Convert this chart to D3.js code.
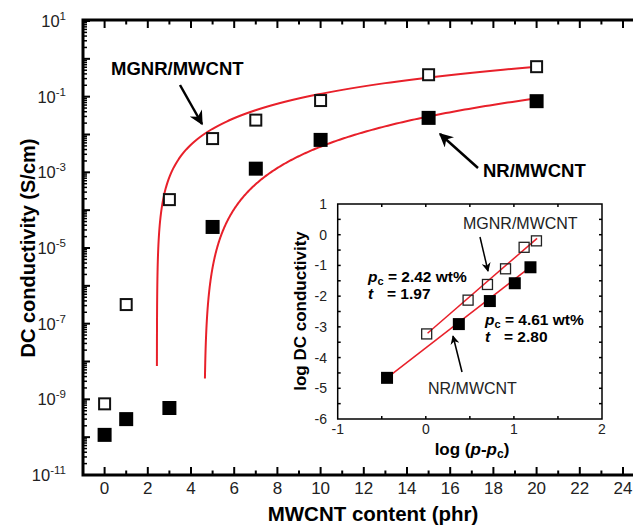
<!DOCTYPE html>
<html>
<head>
<meta charset="utf-8">
<script src="https://cdn.jsdelivr.net/npm/d3@7"></script>
<style>
  body { margin: 0; background: #fff; }
  svg { display: block; font-family: "Liberation Sans", Arial, sans-serif; }
</style>
</head>
<body>
<div id="chart"></div>
<script>
var width = 633, height = 527;

// main plot data (MWCNT content in phr, conductivity in S/cm)
var content = [0, 1, 3, 5, 7, 10, 15, 20];
var mgnrSigma = [7.6e-10, 3.2e-7, 1.9e-4, 7.8e-3, 2.4e-2, 7.9e-2, 3.8e-1, 6.2e-1];
var nrContent = [0, 1, 3, 5, 7, 10, 15, 20];
var nrSigma = [1.15e-10, 3.0e-10, 5.9e-10, 3.6e-5, 1.25e-3, 7.2e-3, 2.75e-2, 7.6e-2];

// percolation fit parameters: pc, t, log prefactor, curve start/end
var fitPc = [2.42, 4.61];
var fitT = [1.97, 2.80];
var fitLogS0 = [-2.66, -4.37];
var fitStart = [2.4217, 4.645];
var fitEnd = [20, 20];

// inset data: log(p - pc) vs log DC conductivity
var insMgnrX = [0.01, 0.48, 0.70, 0.905, 1.116, 1.256];
var insMgnrY = [-3.23, -2.13, -1.62, -1.11, -0.41, -0.20];
var insNrX = [-0.44, 0.375, 0.727, 1.01, 1.188];
var insNrY = [-4.66, -2.91, -2.16, -1.58, -1.06];
var insMgnrLine = [[0.02, -3.21], [1.263, -0.12]];
var insNrLine = [[-0.44, -4.66], [1.2, -1.02]];

var xTicks = d3.range(0, 25, 2);
var yTickExp = [1, -1, -3, -5, -7, -9, -11];

var svg = d3.select('#chart').append('svg')
  .attr('width', width)
  .attr('height', height);

var x = d3.scaleLinear().domain([-1, 25]).range([83, 644.6]);
var y = d3.scaleLog().domain([1e-11, 1e1]).range([475, 21]);

// minor ticks on the log axis
var decades = d3.range(-11, 2);
var minorVals = [];
decades.forEach(function(e) {
  for (var m = 2; m <= 9; m++) {
    var v = m * Math.pow(10, e);
    if (v < 1e1) minorVals.push(v);
  }
});

var axisG = svg.append('g').attr('class', 'axes');

// left axis
axisG.selectAll('.ymajor').data(decades).enter().append('line')
  .attr('x1', 83).attr('x2', 90)
  .attr('y1', function(d) { return y(Math.pow(10, d)); })
  .attr('y2', function(d) { return y(Math.pow(10, d)); })
  .attr('stroke', '#000').attr('stroke-width', 2);
axisG.selectAll('.yminor').data(minorVals).enter().append('line')
  .attr('x1', 83).attr('x2', 87)
  .attr('y1', function(d) { return y(d); })
  .attr('y2', function(d) { return y(d); })
  .attr('stroke', '#000').attr('stroke-width', 1.5);

// bottom and top axes ticks
var xMinor = d3.range(-1, 25, 2);
[475, 20].forEach(function(yy, i) {
  var dir = i === 0 ? -1 : 1;
  axisG.selectAll('.xmaj' + i).data(xTicks).enter().append('line')
    .attr('x1', function(d) { return x(d); })
    .attr('x2', function(d) { return x(d); })
    .attr('y1', yy).attr('y2', yy + dir * 8)
    .attr('stroke', '#000').attr('stroke-width', 2);
  axisG.selectAll('.xmin' + i).data(xMinor).enter().append('line')
    .attr('x1', function(d) { return x(d); })
    .attr('x2', function(d) { return x(d); })
    .attr('y1', yy).attr('y2', yy + dir * 4.5)
    .attr('stroke', '#000').attr('stroke-width', 2);
});

axisG.append('path')
  .attr('d', 'M' + width + ',20H83V475H' + width)
  .attr('fill', 'none').attr('stroke', '#000').attr('stroke-width', 3);

// tick labels
svg.append('g').selectAll('text').data(xTicks).enter().append('text')
  .attr('x', function(d) { return x(d); })
  .attr('y', 494)
  .attr('text-anchor', 'middle')
  .attr('font-size', 17)
  .attr('fill', '#222')
  .text(function(d) { return d; });

var yl = svg.append('g').selectAll('text').data(yTickExp).enter().append('text')
  .attr('x', 66)
  .attr('y', function(d) { return y(Math.pow(10, d)) + 6; })
  .attr('text-anchor', 'end')
  .attr('font-size', 16.5)
  .attr('fill', '#222');
yl.append('tspan').text('10');
yl.append('tspan').attr('font-size', 11.5).attr('dy', -7).text(function(d) { return d < 0 ? '-' + (-d) : d; });

// axis titles
svg.append('text')
  .attr('x', 373).attr('y', 521)
  .attr('text-anchor', 'middle')
  .attr('font-size', 20.5).attr('font-weight', 'bold')
  .text('MWCNT content (phr)');
svg.append('text')
  .attr('transform', 'translate(35,248) rotate(-90)')
  .attr('text-anchor', 'middle')
  .attr('font-size', 20).attr('font-weight', 'bold')
  .text('DC conductivity (S/cm)');

// fit curves
var line = d3.line().x(function(d) { return x(d[0]); }).y(function(d) { return y(d[1]); });
fitPc.forEach(function(pc, i) {
  var pts = [];
  var n = 400;
  for (var k = 0; k <= n; k++) {
    // log-spaced steps away from pc
    var lo = Math.log10(fitStart[i] - pc), hi = Math.log10(fitEnd[i] - pc);
    var p = pc + Math.pow(10, lo + (hi - lo) * k / n);
    pts.push([p, Math.pow(10, fitLogS0[i] + fitT[i] * Math.log10(p - pc))]);
  }
  svg.append('path')
    .attr('d', line(pts))
    .attr('fill', 'none')
    .attr('stroke', '#e8202a')
    .attr('stroke-width', 2);
});

// markers
var sq = 13;
svg.append('g').selectAll('rect').data(content).enter().append('rect')
  .attr('x', function(d) { return x(d) - sq / 2 + 1; })
  .attr('y', function(d, i) { return y(mgnrSigma[i]) - sq / 2 + 1; })
  .attr('width', sq - 2).attr('height', sq - 2)
  .attr('fill', '#fff').attr('stroke', '#111').attr('stroke-width', 2);
svg.append('g').selectAll('rect').data(nrContent).enter().append('rect')
  .attr('x', function(d) { return x(d) - sq / 2 - 0.5; })
  .attr('y', function(d, i) { return y(nrSigma[i]) - sq / 2 - 0.5; })
  .attr('width', sq + 1).attr('height', sq + 1)
  .attr('fill', '#000');

// arrow markers
var defs = svg.append('defs');
defs.append('marker')
  .attr('id', 'arr')
  .attr('viewBox', '0 0 10 10')
  .attr('refX', 9).attr('refY', 5)
  .attr('markerWidth', 16).attr('markerHeight', 14)
  .attr('markerUnits', 'userSpaceOnUse')
  .attr('orient', 'auto')
  .append('path').attr('d', 'M0,0L10,5L0,10L3,5Z').attr('fill', '#000');
defs.append('marker')
  .attr('id', 'arrs')
  .attr('viewBox', '0 0 10 10')
  .attr('refX', 9).attr('refY', 5)
  .attr('markerWidth', 11).attr('markerHeight', 9)
  .attr('markerUnits', 'userSpaceOnUse')
  .attr('orient', 'auto')
  .append('path').attr('d', 'M0,0L10,5L0,10L3,5Z').attr('fill', '#000');

// main annotations
svg.append('text').attr('x', 111).attr('y', 75)
  .attr('font-size', 18.5).attr('font-weight', 'bold').text('MGNR/MWCNT');
svg.append('line').attr('x1', 180).attr('y1', 85).attr('x2', 202).attr('y2', 124)
  .attr('stroke', '#000').attr('stroke-width', 2.5).attr('marker-end', 'url(#arr)');
svg.append('text').attr('x', 483).attr('y', 177)
  .attr('font-size', 18.5).attr('font-weight', 'bold').text('NR/MWCNT');
svg.append('line').attr('x1', 478).attr('y1', 168).attr('x2', 440).attr('y2', 134)
  .attr('stroke', '#000').attr('stroke-width', 2.5).attr('marker-end', 'url(#arr)');

// inset
var ix = d3.scaleLinear().domain([-1, 2]).range([337.7, 602]);
var iy = d3.scaleLinear().domain([-6, 1]).range([419, 204]);
var inset = svg.append('g').attr('class', 'inset');

inset.append('rect')
  .attr('x', ix(-1)).attr('y', iy(1))
  .attr('width', ix(2) - ix(-1)).attr('height', iy(-6) - iy(1))
  .attr('fill', '#fff').attr('stroke', '#000').attr('stroke-width', 1.5);

var ixt = d3.range(-0.5, 2, 0.5);
var iyt = d3.range(-5.5, 1, 0.5);
inset.selectAll('.ixb').data(ixt).enter().append('line')
  .attr('x1', function(d) { return ix(d); }).attr('x2', function(d) { return ix(d); })
  .attr('y1', iy(-6)).attr('y2', iy(-6) - 3)
  .attr('stroke', '#000').attr('stroke-width', 1.5);
inset.selectAll('.ixt').data(ixt).enter().append('line')
  .attr('x1', function(d) { return ix(d); }).attr('x2', function(d) { return ix(d); })
  .attr('y1', iy(1)).attr('y2', iy(1) + 3)
  .attr('stroke', '#000').attr('stroke-width', 1.5);
inset.selectAll('.iyl').data(iyt).enter().append('line')
  .attr('x1', ix(-1)).attr('x2', ix(-1) + 3)
  .attr('y1', function(d) { return iy(d); }).attr('y2', function(d) { return iy(d); })
  .attr('stroke', '#000').attr('stroke-width', 1.5);
inset.selectAll('.iyr').data(iyt).enter().append('line')
  .attr('x1', ix(2)).attr('x2', ix(2) - 3)
  .attr('y1', function(d) { return iy(d); }).attr('y2', function(d) { return iy(d); })
  .attr('stroke', '#000').attr('stroke-width', 1.5);

inset.selectAll('.ixlab').data([-1, 0, 1, 2]).enter().append('text')
  .attr('x', function(d) { return ix(d); }).attr('y', 434)
  .attr('text-anchor', 'middle').attr('font-size', 14).attr('fill', '#222')
  .text(function(d) { return d; });
inset.selectAll('.iylab').data(d3.range(-6, 2)).enter().append('text')
  .attr('x', 327).attr('y', function(d) { return iy(d) + 5; })
  .attr('text-anchor', 'end').attr('font-size', 14).attr('fill', '#222')
  .text(function(d) { return d; });

var ixl = inset.append('text').attr('x', 472).attr('y', 455)
  .attr('text-anchor', 'middle').attr('font-size', 17).attr('font-weight', 'bold');
ixl.append('tspan').text('log (');
ixl.append('tspan').attr('font-style', 'italic').text('p');
ixl.append('tspan').text('-');
ixl.append('tspan').attr('font-style', 'italic').text('p');
ixl.append('tspan').attr('font-size', 12).attr('dy', 3).text('c');
ixl.append('tspan').attr('dy', -3).text(')');

inset.append('text')
  .attr('transform', 'translate(306,311) rotate(-90)')
  .attr('text-anchor', 'middle').attr('font-size', 17).attr('font-weight', 'bold')
  .text('log DC conductivity');

// inset fit lines
var iline = d3.line().x(function(d) { return ix(d[0]); }).y(function(d) { return iy(d[1]); });
[insMgnrLine, insNrLine].forEach(function(l) {
  inset.append('path').attr('d', iline(l))
    .attr('fill', 'none').attr('stroke', '#e8202a').attr('stroke-width', 1.5);
});

var isq = 10;
inset.selectAll('.im').data(insMgnrX).enter().append('rect')
  .attr('x', function(d) { return ix(d) - isq / 2; })
  .attr('y', function(d, i) { return iy(insMgnrY[i]) - isq / 2; })
  .attr('width', isq).attr('height', isq)
  .attr('fill', 'none').attr('stroke', '#222').attr('stroke-width', 1.3);
inset.selectAll('.in').data(insNrX).enter().append('rect')
  .attr('x', function(d) { return ix(d) - isq / 2 - 1; })
  .attr('y', function(d, i) { return iy(insNrY[i]) - isq / 2 - 1; })
  .attr('width', isq + 2).attr('height', isq + 2)
  .attr('fill', '#000');

// inset annotations
inset.append('text').attr('x', 463).attr('y', 229)
  .attr('font-size', 16).attr('fill', '#222').text('MGNR/MWCNT');
inset.append('line').attr('x1', 480).attr('y1', 237).attr('x2', 488).attr('y2', 271)
  .attr('stroke', '#000').attr('stroke-width', 1.5).attr('marker-end', 'url(#arrs)');
inset.append('text').attr('x', 428).attr('y', 394)
  .attr('font-size', 16).attr('fill', '#222').text('NR/MWCNT');
inset.append('line').attr('x1', 462).attr('y1', 372).attr('x2', 453).attr('y2', 336)
  .attr('stroke', '#000').attr('stroke-width', 1.5).attr('marker-end', 'url(#arrs)');

function pcLabel(xx, yy, pcv, tv) {
  var t1 = inset.append('text').attr('x', xx).attr('y', yy)
    .attr('font-size', 15.5).attr('font-weight', 'bold');
  t1.append('tspan').attr('font-style', 'italic').text('p');
  t1.append('tspan').attr('font-size', 11).attr('dy', 3).text('c');
  t1.append('tspan').attr('dy', -3).text(' = ' + pcv + ' wt%');
  var t2 = inset.append('text').attr('x', xx).attr('y', yy + 17)
    .attr('font-size', 15.5).attr('font-weight', 'bold');
  t2.append('tspan').attr('font-style', 'italic').text('t');
  t2.append('tspan').attr('x', xx + 19).text('= ' + tv);
}
pcLabel(368, 282, fitPc[0].toFixed(2), fitT[0].toFixed(2));
pcLabel(485, 325, fitPc[1].toFixed(2), fitT[1].toFixed(2));
</script>
</body>
</html>
